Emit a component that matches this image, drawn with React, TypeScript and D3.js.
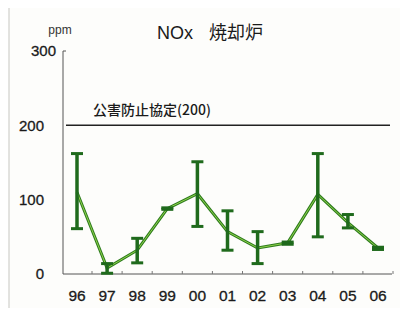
import React, { useEffect, useRef } from "react";
import * as d3 from "d3";

const years = ["96", "97", "98", "99", "00", "01", "02", "03", "04", "05", "06"];
const meanValues = [110, 8, 32, 88, 108, 57, 35, 42, 107, 69, 35];
const minValues = [61, 1, 15, 87, 64, 32, 14, 40, 50, 62, 33];
const maxValues = [162, 14, 48, 89, 151, 85, 57, 43, 162, 80, 36];
const yTicks = [0, 100, 200, 300];
const limitValue = 200;

const App = () => {
  const ref = useRef<HTMLDivElement>(null);

  useEffect(() => {
    const width = 408;
    const height = 316;
    const font = "Liberation Sans, Arial, sans-serif";
    const cjk = "Noto Sans CJK JP, sans-serif";

    d3.select(ref.current).selectAll("*").remove();

    const svg = d3
      .select(ref.current)
      .append("svg")
      .attr("width", width)
      .attr("height", height)
      .style("display", "block")
      .style("background", "#fdfdfb");

    // frame of the scanned page
    svg
      .append("path")
      .attr("d", "M9,6 H404 M9,6 V312 H404")
      .attr("fill", "none")
      .attr("stroke", "#c8c8c4")
      .attr("stroke-width", 1);

    const x = d3.scalePoint().domain(years).range([77, 378]);
    const y = d3.scaleLinear().domain([0, 300]).range([274, 51]);

    // axes
    svg
      .append("path")
      .attr("d", `M66,${y(300)} H63 V${y(0)} H392`)
      .attr("fill", "none")
      .attr("stroke", "#555")
      .attr("stroke-width", 1);

    svg
      .append("g")
      .selectAll("line")
      .data(years)
      .join("line")
      .attr("x1", (d) => x(d)! + 15)
      .attr("x2", (d) => x(d)! + 15)
      .attr("y1", y(0) - 3)
      .attr("y2", y(0))
      .attr("stroke", "#777")
      .attr("stroke-width", 1);

    svg
      .append("g")
      .selectAll("text")
      .data(yTicks)
      .join("text")
      .attr("x", (d) => (d === 300 ? 56 : 44))
      .attr("y", (d) => y(d))
      .attr("dy", "0.36em")
      .attr("text-anchor", "end")
      .attr("font-family", font)
      .attr("font-size", 15)
      .attr("fill", "#1a1a1a")
      .attr("stroke", "#1a1a1a")
      .attr("stroke-width", 0.3)
      .text((d) => d);

    svg
      .append("g")
      .selectAll("text")
      .data(years)
      .join("text")
      .attr("x", (d) => x(d)!)
      .attr("y", 295)
      .attr("dy", "0.36em")
      .attr("text-anchor", "middle")
      .attr("font-family", font)
      .attr("font-size", 15.5)
      .attr("fill", "#1a1a1a")
      .attr("stroke", "#1a1a1a")
      .attr("stroke-width", 0.3)
      .text((d) => d);

    // limit line
    svg
      .append("line")
      .attr("x1", 66)
      .attr("x2", 390)
      .attr("y1", y(limitValue))
      .attr("y2", y(limitValue))
      .attr("stroke", "#222")
      .attr("stroke-width", 1.5);

    svg
      .append("text")
      .attr("x", 93)
      .attr("y", 110)
      .attr("dy", "0.36em")
      .attr("font-family", cjk)
      .attr("font-size", 14)
      .attr("font-weight", 500)
      .attr("fill", "#1a1a1a")
      .text(`公害防止協定(${limitValue})`);

    const title = svg
      .append("text")
      .attr("y", 33)
      .attr("dy", "0.36em")
      .attr("font-size", 18)
      .attr("fill", "#1a1a1a");
    title.append("tspan").attr("x", 157).attr("font-family", font).text("NOx");
    title.append("tspan").attr("x", 209).attr("font-family", cjk).text("焼却炉");

    svg
      .append("text")
      .attr("x", 60)
      .attr("y", 30)
      .attr("dy", "0.36em")
      .attr("text-anchor", "middle")
      .attr("font-family", font)
      .attr("font-size", 12)
      .attr("fill", "#333")
      .text("ppm");

    // mean line
    const line = d3
      .line<number>()
      .x((_, i) => x(years[i])!)
      .y((d) => y(d));

    svg
      .append("path")
      .datum(meanValues)
      .attr("d", line)
      .attr("fill", "none")
      .attr("stroke", "#2e7d1e")
      .attr("stroke-width", 3);
    svg
      .append("path")
      .datum(meanValues)
      .attr("d", line)
      .attr("fill", "none")
      .attr("stroke", "#8fd04a")
      .attr("stroke-width", 1);

    // error bars
    const bars = svg
      .append("g")
      .selectAll("g")
      .data(years)
      .join("g");

    bars
      .append("line")
      .attr("x1", (d) => x(d)!)
      .attr("x2", (d) => x(d)!)
      .attr("y1", (_, i) => y(maxValues[i]))
      .attr("y2", (_, i) => y(minValues[i]))
      .attr("stroke", "#1f6a1c")
      .attr("stroke-width", 3.5);

    bars
      .selectAll("line.cap")
      .data((d, i) => [
        { year: d, v: minValues[i] },
        { year: d, v: maxValues[i] },
      ])
      .join("line")
      .attr("class", "cap")
      .attr("x1", (c) => x(c.year)! - 6)
      .attr("x2", (c) => x(c.year)! + 6)
      .attr("y1", (c) => y(c.v))
      .attr("y2", (c) => y(c.v))
      .attr("stroke", "#1f6a1c")
      .attr("stroke-width", 3);
  }, []);

  return <div ref={ref} style={{ margin: -8 }}></div>;
};

export default App;
